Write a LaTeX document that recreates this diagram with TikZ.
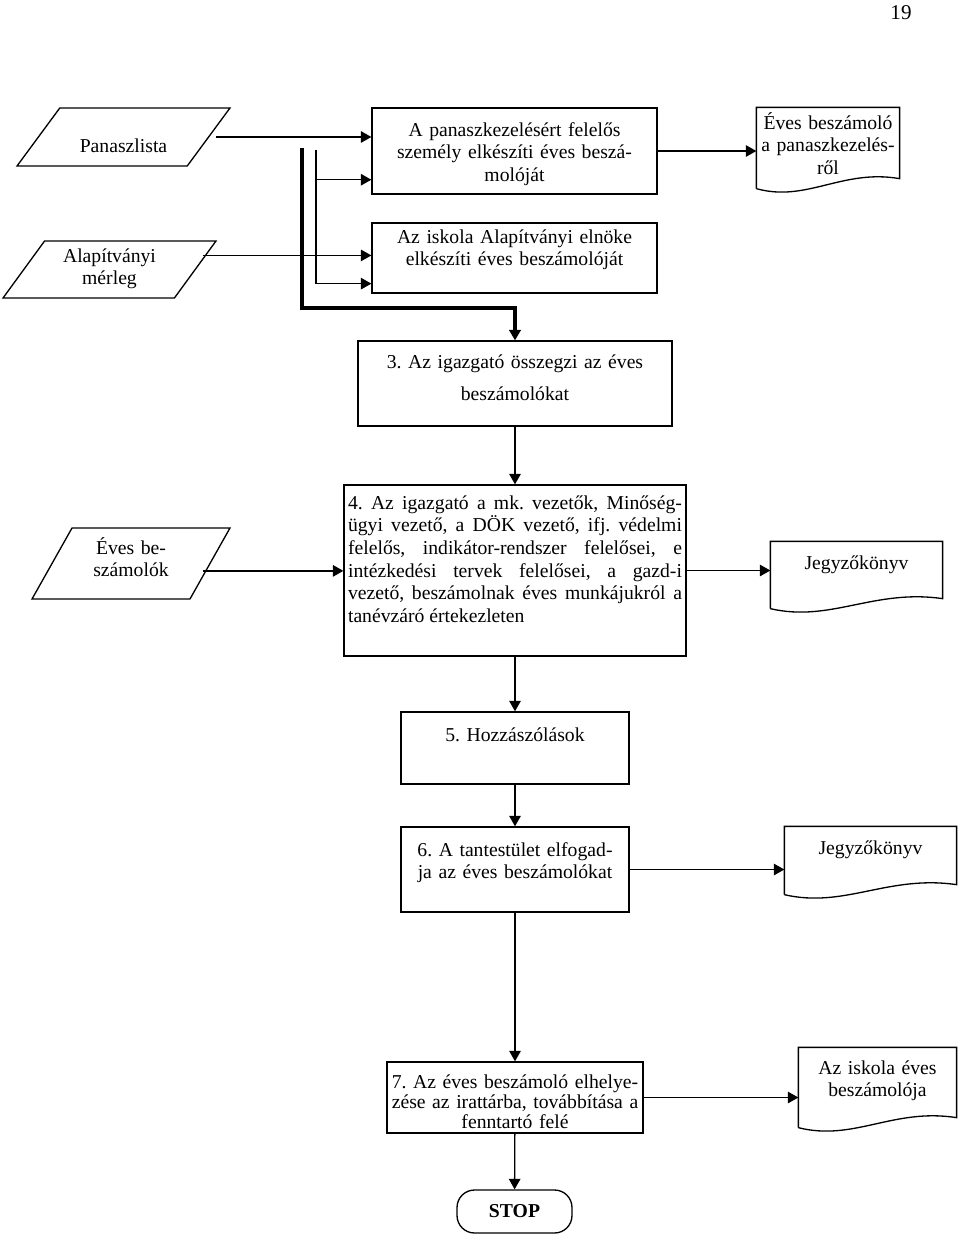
\documentclass[tikz,border=0pt]{standalone}
\usepackage{fontspec}
\setmainfont{Liberation Serif}
\usetikzlibrary{shapes.geometric,arrows.meta,calc}
\frenchspacing

\begin{document}
\begin{tikzpicture}[>={Triangle[length=2.1mm,width=2.3mm]},x=0.02cm,y=-0.02cm,line width=0.75pt,
    every node/.style={font=\fontsize{11.2}{12.9}\selectfont},
    proc/.style={rectangle,draw,inner ysep=0pt,inner xsep=0.1cm,align=center},
    data/.style={trapezium,draw,trapezium stretches body,inner ysep=0pt,inner xsep=0.05cm,text width=2.2cm,align=center},
    doc/.style={rectangle,inner ysep=0pt,inner xsep=0.05cm,align=center},
    stop/.style={rectangle,draw,rounded corners=0.35cm,minimum width=2.3cm,minimum height=0.86cm,font=\fontsize{11.2}{12.9}\selectfont\bfseries},
    bar/.style={line width=2.3pt}]

    \useasboundingbox (0,0) rectangle (960,1237);

    \node (page) at (901,13) {\fontsize{12}{14}\selectfont 19};

    % inputs
    \node[data,trapezium left angle=53.6,trapezium right angle=126.4,minimum width=4.26cm,text height=.90cm,text depth=.26cm] (list) at (123.5,137) {Panaszlista};
    \node[data,trapezium left angle=53.9,trapezium right angle=126.1,minimum width=4.26cm,text height=.42cm,text depth=.72cm] (fund) at (109.5,269.5) {Alapítványi\\ mérleg};
    \node[data,trapezium left angle=60.6,trapezium right angle=119.4,minimum width=3.96cm,text height=.52cm,text depth=.90cm] (annual) at (131,563.5) {Éves be-\\ számolók};

    % steps
    \node[proc,text width=5.5cm,text height=.56cm,text depth=1.16cm] (make) at (514.5,151) {A panaszkezelésért felelős\\ személy elkészíti éves beszá-\\ molóját};
    \node[proc,text width=5.5cm,text height=.40cm,text depth=1.00cm] (chair) at (514.5,258) {Az iskola Alapítványi elnöke\\ elkészíti éves beszámolóját};
    \node[proc,text width=6.08cm,text height=.54cm,text depth=1.16cm,font=\fontsize{11.2}{18.7}\selectfont] (sum) at (515,383.5) {3. Az igazgató összegzi az éves\\ beszámolókat};
    \node[proc,text width=6.68cm,inner xsep=0.08cm,align=justify,text height=.48cm,text depth=2.94cm] (meeting) at (515,570.5) {4. Az igazgató a mk. vezetők, Minőség-\linebreak ügyi vezető, a DÖK vezető, ifj. védelmi\linebreak felelős, indikátor-rendszer felelősei, e\linebreak intézkedési tervek felelősei, a gazd-i\linebreak vezető, beszámolnak éves munkájukról a\linebreak tanévzáró értekezleten};
    \node[proc,text width=4.36cm,text height=.58cm,text depth=.86cm] (comments) at (515,748) {5. Hozzászólások};
    \node[proc,text width=4.36cm,text height=.58cm,text depth=1.12cm] (accept) at (515,869.5) {6. A tantestület elfogad-\\ ja az éves beszámolókat};
    \node[proc,text width=5.0cm,inner xsep=0.06cm,text height=.52cm,text depth=.90cm,font=\fontsize{11.2}{11.4}\selectfont] (archive) at (515,1097.5) {7. Az éves beszámoló elhelye-\\ zése az irattárba, továbbítása a\\ fenntartó felé};
    \node[stop] (end) at (514.5,1211.5) {STOP};

    % documents
    \node[doc,text width=2.74cm,text height=.42cm,text depth=1.18cm] (report) at (828,148) {Éves beszámoló\\ a panaszkezelés-\\ ről};
    \node[doc,text width=3.32cm,text height=.54cm,text depth=.78cm] (minutes) at (856.5,575) {Jegyzőkönyv};
    \node[doc,text width=3.32cm,text height=.54cm,text depth=.80cm] (minutes2) at (870.5,860.5) {Jegyzőkönyv};
    \node[doc,text width=3.04cm,text height=.52cm,text depth=1.06cm] (yearly) at (877.5,1087.5) {Az iskola éves\\ beszámolója};

    \foreach \d in {report,minutes,minutes2,yearly}{
        \draw (\d.south west) -- (\d.north west) -- (\d.north east) -- ($(\d.south east)+(0,-10)$)
            .. controls ($(\d.south west)!0.6!(\d.south east)+(0,-20)$) and ($(\d.south west)!0.35!(\d.south east)+(0,14)$) .. (\d.south west);
    }

    % connectors
    \coordinate (out1) at ([xshift=4pt]list.east);
    \coordinate (out2) at ([xshift=4pt,yshift=8pt]fund.east);
    \coordinate (out3) at ([xshift=-4.5pt,yshift=-4.2pt]annual.east);
    \foreach \o/\b in {out1/make, out2/chair, out3/meeting}
        \draw[->] (\o) -- (\o -| \b.west);

    \foreach \a/\b in {make/report, meeting/minutes, accept/minutes2, archive/yearly}
        \draw[->] (\a.east) -- (\a.east -| \b.west);

    \foreach \a/\b in {sum/meeting, meeting/comments, comments/accept, accept/archive, archive/end}
        \path[->] (\a) edge (\b);

    \coordinate (tap) at (316,150);
    \coordinate (in1) at ([yshift=8.5pt]make.south west);
    \coordinate (in2) at ([yshift=5.7pt]chair.south west);
    \draw[->] (tap) |- (in2);
    \draw[->] (in1 -| tap) -- (in1);

    \coordinate (feed) at (302,148);
    \draw[bar,->] (feed) |- ($(sum.north)+(0,-32)$) -- (sum.north);

\end{tikzpicture}
\end{document}
